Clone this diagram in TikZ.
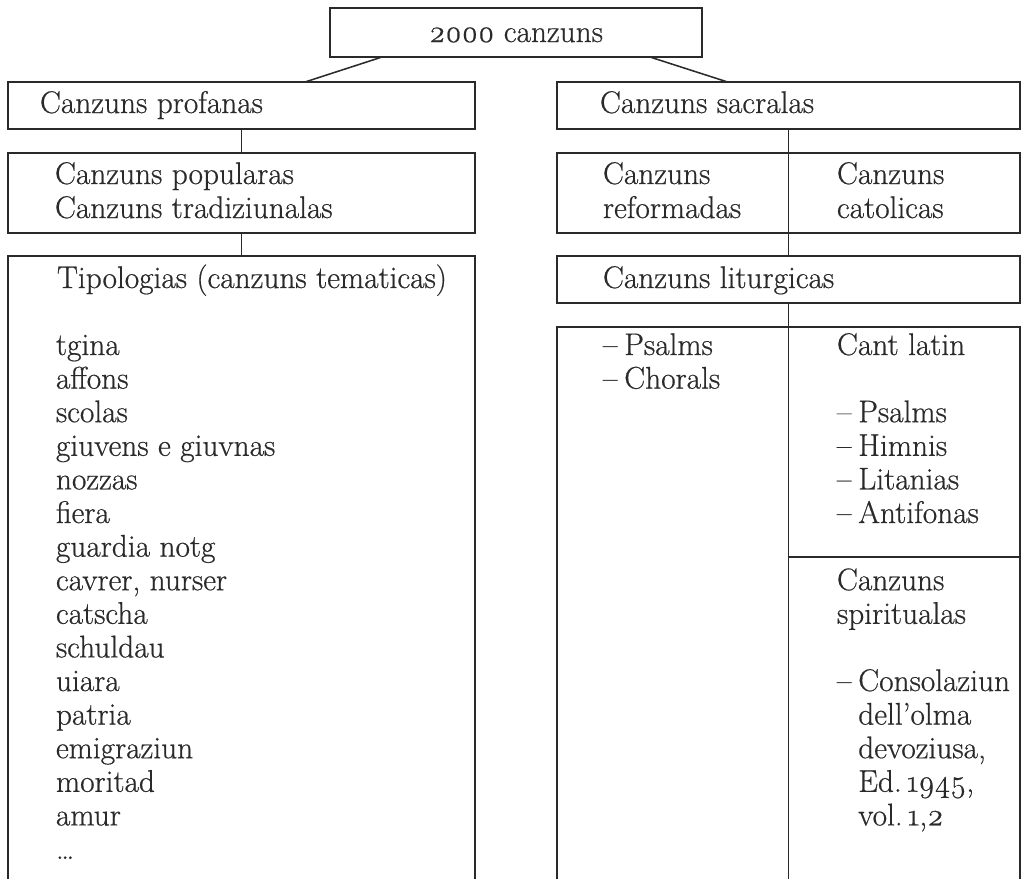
\documentclass[tikz,border=0pt]{standalone}
\usepackage{fontspec}
\setmainfont{Latin Modern Roman}[FakeBold=0.6]
\usetikzlibrary{calc}
\definecolor{ink}{HTML}{2a2a2a}
\newcommand\dsh{–\hspace{0.22em}}
\begin{document}
\begin{tikzpicture}[x=0.75pt,y=-0.75pt,
  box/.style={draw=ink,line width=1.15pt,inner sep=0pt,outer sep=0pt,rectangle},
  link/.style={draw=ink,line width=1.15pt},
  txt/.style={anchor=base west,inner sep=0pt,outer sep=0pt,text=ink,font=\fontsize{23.5pt}{27pt}\selectfont}]
\useasboundingbox (0,0) rectangle (1022,879);
\clip (0,0) rectangle (1022,879);
% boxes
\node[box,minimum width=279pt,minimum height=36.75pt] (top) at (516,32.5) {};
\node[box,minimum width=350.25pt,minimum height=35.25pt] (prof) at (241.5,105.5) {};
\node[box,minimum width=347.25pt,minimum height=35.25pt] (sacr) at (788.5,105.5) {};
\node[box,minimum width=350.25pt,minimum height=60pt] (pop) at (241.5,193) {};
\node[box,minimum width=347.25pt,minimum height=60pt] (sacrb) at (788.5,193) {};
\node[box,minimum width=350.25pt,minimum height=480pt] (tip) at (241.5,576) {};
\node[box,minimum width=347.25pt,minimum height=35.25pt] (litu) at (788.5,279.5) {};
\node[box,minimum width=347.25pt,minimum height=426.75pt] (big) at (788.5,611.5) {};
\coordinate (hsplit) at (789,557);
% connectors
\draw[link] ($(top.south west)!0.14!(top.south east)$) -- ($(prof.north west)!0.636!(prof.north east)$);
\draw[link] ($(top.south west)!0.86!(top.south east)$) -- ($(sacr.north west)!0.3685!(sacr.north east)$);
\draw[link] (prof.south) -- (pop.north);
\draw[link] (pop.south) -- (tip.north);
\draw[link] (sacr.south) -- (sacrb.north);
\draw[link] (sacrb.north) -- (sacrb.south);
\draw[link] (sacrb.south) -- (litu.north);
\draw[link] (litu.south) -- (big.north);
\draw[link] (big.north) -- (big.south);
\draw[link] (hsplit) -- (hsplit -| big.east);
% texts
\node[txt,anchor=base] (ttop) at (516,42) {\oldstylenums{2000} canzuns};
\node[txt] (tprof) at (40,113) {Canzuns profanas};
\node[txt] (tsacr) at (600,113) {Canzuns sacralas};
\node[txt] (tpop1) at (55,184) {Canzuns popularas};
\node[txt] (tpop2) at (55,218) {Canzuns tradiziunalas};
\node[txt] (tref1) at (603,184) {Canzuns};
\node[txt] (tref2) at (603,218) {reformadas};
\node[txt] (tcat1) at (837,184) {Canzuns};
\node[txt] (tcat2) at (837,218) {catolicas};
\node[txt] (ttip) at (57,288) {Tipologias (canzuns tematicas)};
\node[txt] (tlit) at (603,288) {Canzuns liturgicas};
\foreach \w [count=\i from 0] in {tgina,affons,scolas,giuvens e giuvnas,nozzas,fiera,guardia notg,{cavrer, nurser},catscha,schuldau,uiara,patria,emigraziun,moritad,amur,\dots}
  \node[txt] (l\i) at (56,{355+33.6*\i}) {\w};
\node[txt] (r1) at (603,355) {\dsh Psalms};
\node[txt] (r2) at (603,388.6) {\dsh Chorals};
\node[txt] (c0) at (837,355) {Cant latin};
\node[txt] (c2) at (837,422.2) {\dsh Psalms};
\node[txt] (c3) at (837,455.8) {\dsh Himnis};
\node[txt] (c4) at (837,489.4) {\dsh Litanias};
\node[txt] (c5) at (837,523) {\dsh Antifonas};
\node[txt] (s7) at (837,590.2) {Canzuns};
\node[txt] (s8) at (837,623.8) {spiritualas};
\node[txt] (s10) at (837,691) {\dsh Consolaziun};
\node[txt] (s11) at (837,724.6) {\hphantom{\dsh}dell’olma};
\node[txt] (s12) at (837,758.2) {\hphantom{\dsh}devoziusa,};
\node[txt] (s13) at (837,791.8) {\hphantom{\dsh}Ed.\,\oldstylenums{1945},};
\node[txt] (s14) at (837,825.4) {\hphantom{\dsh}vol.\,\oldstylenums{1},\oldstylenums{2}};
\end{tikzpicture}
\end{document}
